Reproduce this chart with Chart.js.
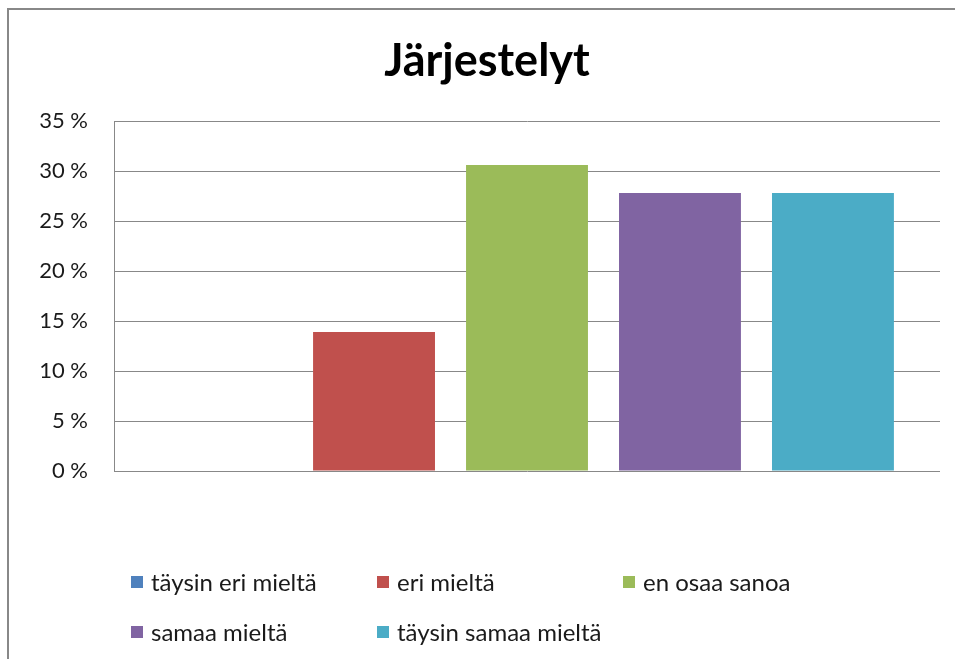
<!DOCTYPE html>
<html lang="fi">
<head>
    <meta charset="UTF-8">
    <title>Järjestelyt</title>
    <script src="https://cdn.jsdelivr.net/npm/chart.js"></script>
    <style>
        html, body { margin: 0; padding: 0; background: #fff; }
        #wrap { position: relative; width: 955px; height: 659px; }
    </style>
</head>
<body>
<div id="wrap">
    <canvas id="chart" width="955" height="659"></canvas>
</div>
<script>
    // data
    const chartTitle = 'Järjestelyt';
    const categories = [''];
    const seriesNames = ['täysin eri mieltä', 'eri mieltä', 'en osaa sanoa', 'samaa mieltä', 'täysin samaa mieltä'];
    const seriesValues = [0, 13.9, 30.6, 27.8, 27.8];
    const seriesColors = ['#4F81BD', '#C0504D', '#9BBB59', '#8064A2', '#4BACC6'];
    const yTicks = [0, 5, 10, 15, 20, 25, 30, 35];

    const datasets = seriesNames.map((name, i) => ({
        label: name,
        data: [seriesValues[i]],
        backgroundColor: seriesColors[i],
        borderWidth: 0,
        categoryPercentage: 0.926,
        barPercentage: 0.797
    }));

    // grey frame on top and left, like the pasted picture
    const framePlugin = {
        id: 'frame',
        beforeDraw(chart) {
            const c = chart.ctx;
            c.save();
            c.fillStyle = '#fff';
            c.fillRect(0, 0, chart.width, chart.height);
            c.strokeStyle = '#888';
            c.lineWidth = 2;
            c.beginPath();
            c.moveTo(8, chart.height);
            c.lineTo(8, 9);
            c.lineTo(chart.width, 9);
            c.stroke();
            c.restore();
        }
    };

    // legend in a 3 column grid below the plot
    const gridLegend = {
        id: 'gridLegend',
        afterDraw(chart) {
            const c = chart.ctx;
            const cols = 3, x0 = 131, colW = 246, y0 = 582, rowH = 50, box = 12;
            c.save();
            c.font = '24px Lato';
            c.textBaseline = 'middle';
            chart.data.datasets.forEach((ds, i) => {
                const x = x0 + (i % cols) * colW;
                const y = y0 + Math.floor(i / cols) * rowH;
                c.fillStyle = ds.backgroundColor;
                c.fillRect(x, y - box / 2, box, box);
                c.fillStyle = '#1a1a1a';
                c.fillText(ds.label, x + box + 8, y + 1);
            });
            c.restore();
        }
    };

    new Chart(document.getElementById('chart'), {
        type: 'bar',
        data: { labels: categories, datasets: datasets },
        plugins: [framePlugin, gridLegend],
        options: {
            responsive: false,
            animation: false,
            layout: { padding: { top: 14, left: 34, right: 15, bottom: 188 } },
            plugins: {
                legend: { display: false },
                tooltip: { enabled: false },
                title: {
                    display: true,
                    text: chartTitle,
                    color: '#000',
                    font: { family: 'Lato', size: 45, weight: 'bold', lineHeight: 1.2 },
                    padding: { top: 20, bottom: 33 }
                }
            },
            scales: {
                x: { display: false },
                y: {
                    min: 0,
                    max: 35,
                    afterFit(scale) { scale.width = 80; },
                    afterBuildTicks(scale) { scale.ticks = yTicks.map(v => ({ value: v })); },
                    border: { display: true, color: '#888', width: 1 },
                    grid: { color: '#888', lineWidth: 1, drawTicks: false },
                    ticks: {
                        padding: 26,
                        color: '#1a1a1a',
                        font: { family: 'Lato', size: 22 },
                        callback: v => v + ' %'
                    }
                }
            }
        }
    });
</script>
</body>
</html>
